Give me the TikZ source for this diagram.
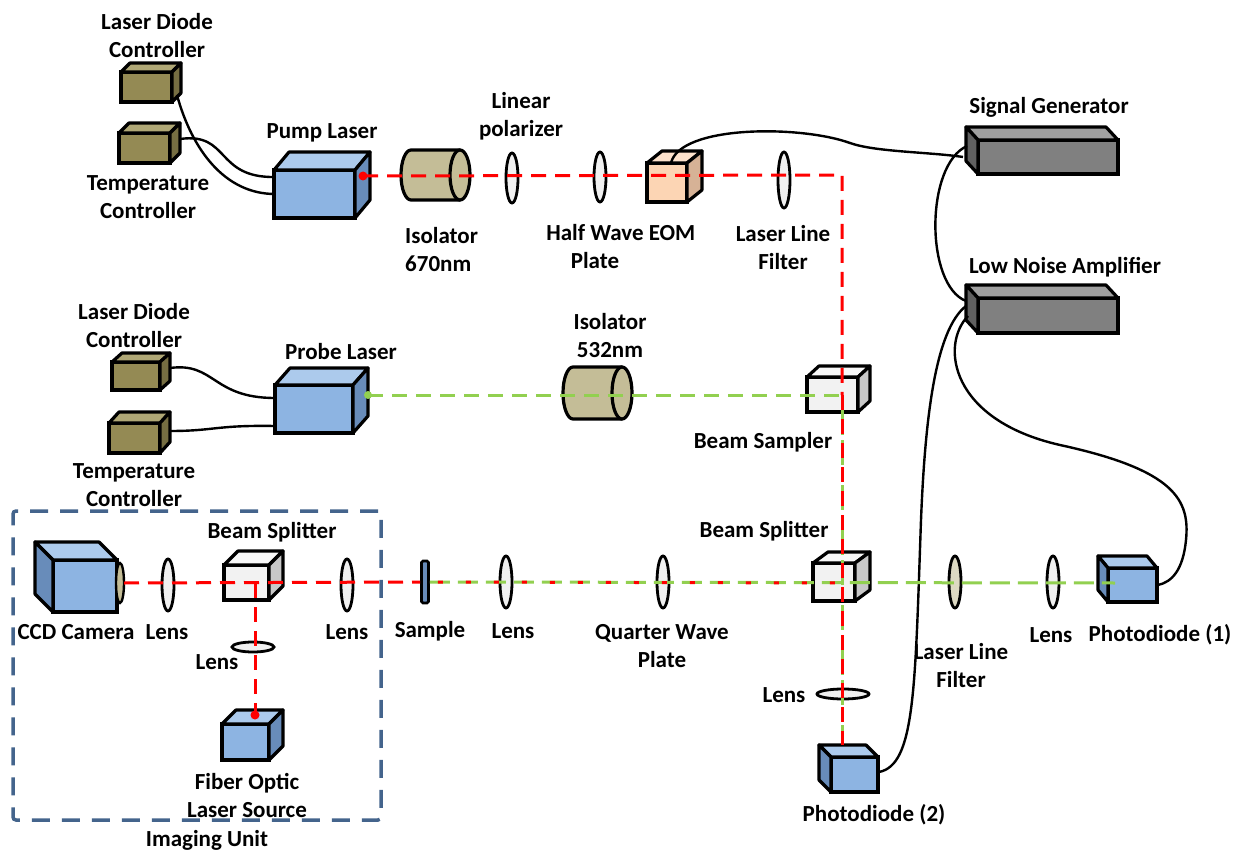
\documentclass[tikz,border=0pt]{standalone}
\usepackage{fontspec}
\setmainfont{Carlito}
\usetikzlibrary{shapes.geometric}

% face colours of the boxes: F = front, T = top, S = side
\definecolor{oliveF}{RGB}{148,138,84}
\definecolor{oliveT}{RGB}{176,168,118}
\definecolor{oliveS}{RGB}{118,110,66}
\definecolor{blueF}{RGB}{141,180,226}
\definecolor{blueT}{RGB}{172,202,236}
\definecolor{blueS}{RGB}{104,140,186}
\definecolor{grayF}{RGB}{128,128,128}
\definecolor{grayT}{RGB}{160,160,160}
\definecolor{grayS}{RGB}{96,96,96}
\definecolor{whiteF}{RGB}{242,242,242}
\definecolor{whiteT}{RGB}{248,248,248}
\definecolor{whiteS}{RGB}{200,200,200}
\definecolor{peachF}{RGB}{252,213,180}
\definecolor{peachT}{RGB}{253,226,204}
\definecolor{peachS}{RGB}{214,178,150}
\definecolor{isofill}{RGB}{196,189,151}
\definecolor{lensfill}{RGB}{240,240,240}
\definecolor{filterfill}{RGB}{221,217,195}
\definecolor{beamred}{RGB}{255,0,0}
\definecolor{beamgreen}{RGB}{146,208,80}
\definecolor{boxblue}{RGB}{68,100,140}

\tikzset{
  lbl/.style={font=\fontsize{23}{28}\selectfont\bfseries, align=center, inner sep=0pt},
  cubeface/.style={rectangle, draw=black, line width=3.2pt, inner sep=0pt, outer sep=0pt},
  cubeline/.style={draw=black, line width=3.2pt, line join=round},
  lens/.style={ellipse, draw=black, line width=2.8pt, fill=lensfill, inner sep=0pt},
  cable/.style={draw=black, line width=2.4pt},
  redbeam/.style={draw=beamred, line width=3pt, dash pattern=on 15pt off 9pt},
  reddots/.style={draw=beamred, line width=3pt, dash pattern=on 5pt off 23pt, dash phase=-8pt},
  greenbeam/.style={draw=beamgreen, line width=3pt, dash pattern=on 15pt off 9pt},
  greenmix/.style={draw=beamgreen, line width=3pt, dash pattern=on 20pt off 8pt},
  greenvert/.style={draw=beamgreen, line width=3pt, dash pattern=on 10pt off 5pt},
  imgbox/.style={rectangle, draw=boxblue, line width=3.5pt, dash pattern=on 18pt off 12pt, rounded corners=3pt, inner sep=0pt},
  beamdot/.style={circle, fill=beamred, inner sep=0pt, minimum size=9pt}
}

% box with its side face on the right: name, x1, y1, x2, y2 (front face), depth dx, dy, colour set
\newcommand{\cubeR}[8]{%
  \node[cubeface, fill=#8F, minimum width={#4-#2}, minimum height={#5-#3}] (#1) at ({(#2+#4)/2},{(#3+#5)/2}) {};
  \filldraw[cubeline, fill=#8T] (#1.north west) -- ++(#6,-#7) -- ++({#4-#2},0) -- (#1.north east) -- cycle;
  \filldraw[cubeline, fill=#8S] (#1.north east) -- ++(#6,-#7) -- ++(0,{#5-#3}) -- (#1.south east) -- cycle;
}
% box with its side face on the left
\newcommand{\cubeL}[8]{%
  \node[cubeface, fill=#8F, minimum width={#4-#2}, minimum height={#5-#3}] (#1) at ({(#2+#4)/2},{(#3+#5)/2}) {};
  \filldraw[cubeline, fill=#8T] (#1.north west) -- ++(-#6,-#7) -- ++({#4-#2},0) -- (#1.north east) -- cycle;
  \filldraw[cubeline, fill=#8S] (#1.north west) -- ++(-#6,-#7) -- ++(0,{#5-#3}) -- (#1.south west) -- cycle;
}
% optical isolator: name, left x, x of end face, centre y, radii
\newcommand{\isolator}[6]{%
  \filldraw[cubeline, fill=isofill] ({#2+#5},{#4-#6}) -- (#3,{#4-#6}) -- (#3,{#4+#6}) -- ({#2+#5},{#4+#6})
    arc[start angle=270, end angle=90, x radius=#5pt, y radius=#6pt] -- cycle;
  \node[ellipse, draw=black, line width=3.2pt, fill=isofill, inner sep=0pt,
        minimum width={2*#5}, minimum height={2*#6}] (#1) at (#3,#4) {};
}

\begin{document}
\begin{tikzpicture}[x=1pt, y=-1pt]
\useasboundingbox (0,0) rectangle (1251,853);

% ---------- imaging unit frame ----------
\node[imgbox, minimum width=368, minimum height=309] (imaging) at (197,665.5) {};

% ---------- pump branch ----------
\cubeR{ldA}{121}{72}{172}{102}{9}{9}{olive}
\cubeR{tcA}{119}{133}{170}{163}{10}{10}{olive}
\cubeR{pump}{274}{170}{355}{218}{15}{18}{blue}
\isolator{isoA}{401}{460}{175}{10}{25}
\node[lens, minimum width=12, minimum height=50] (polar) at (512,178) {};
\node[lens, minimum width=12, minimum height=50] (hwp) at (600,177) {};
\cubeR{eom}{647}{163}{687}{202}{15}{12}{peach}
\node[lens, minimum width=12, minimum height=56] (llfA) at (784,180) {};

% ---------- electronics ----------
\cubeL{siggen}{978}{140}{1118}{174}{12}{13}{gray}
\cubeL{lna}{978}{298}{1118}{333}{12}{13}{gray}

% ---------- probe branch ----------
\cubeR{ldB}{112}{362}{160}{390}{10}{9}{olive}
\cubeR{tcB}{109}{423}{160}{453}{10}{11}{olive}
\cubeR{probe}{275}{385}{353}{433}{15}{17}{blue}
\isolator{isoB}{563}{622}{393}{10}{26}
\cubeR{sampler}{807}{377}{858}{412}{12}{11}{white}

% ---------- detection line ----------
\cubeR{bsR}{813}{563}{855}{601}{15}{11}{white}
\node[lens, minimum width=52, minimum height=10] (lensPD) at (843,694) {};
\cubeL{pdB}{831}{757}{878}{792}{12}{12}{blue}
\node[lens, minimum width=12, minimum height=52] (lensS) at (506,582) {};
\node[lens, minimum width=12, minimum height=52] (qwp) at (663,582) {};
\node[lens, minimum width=12, minimum height=52, fill=filterfill] (llfB) at (955,582) {};
\node[lens, minimum width=12, minimum height=52] (lensPDA) at (1053,582) {};
\cubeL{pdA}{1108}{568}{1157}{602}{10}{12}{blue}
\node[rectangle, draw=black, line width=2.6pt, fill=blueS, rounded corners=1.5pt,
      minimum width=7, minimum height=42, inner sep=0pt] (sample) at (425,582) {};

% ---------- imaging unit contents ----------
\cubeL{ccd}{53}{560}{117}{612}{18}{18}{blue}
\node[ellipse, draw=black, line width=2.4pt, fill=isofill, minimum width=8, minimum height=40, inner sep=0pt] (ccdlens) at (120,583) {};
\node[lens, minimum width=12, minimum height=52] (lensC) at (168,585) {};
\cubeR{bsL}{224}{565}{269}{600}{14}{14}{white}
\node[lens, minimum width=12, minimum height=52] (lensD) at (347,585) {};
\node[lens, minimum width=42, minimum height=10] (lensF) at (253,647) {};
\cubeR{fiber}{222}{724}{269}{760}{14}{14}{blue}

% ---------- cable end points ----------
\coordinate (ldAout) at (177,95);
\coordinate (tcAout) at (180,139);
\coordinate (pumpin1) at (275,194);
\coordinate (pumpin2) at (275,177);
\coordinate (ldBout) at (170,368);
\coordinate (tcBout) at (170,431);
\coordinate (probein1) at (275,398);
\coordinate (probein2) at (275,426);
\coordinate (eomout) at (671,163);
\coordinate (sgin) at (963,157);
\coordinate (sgout) at (967,146);
\coordinate (lnain) at (966,301);
\coordinate (lnaoutB) at (966,306);
\coordinate (lnaoutA) at (968,316);
\coordinate (pdBin) at (879,772);
\coordinate (pdAin) at (1158,585);

% ---------- cables ----------
\draw[cable] (ldAout) .. controls (192,150) and (225,194) .. (pumpin1);
\draw[cable] (tcAout) .. controls (230,132) and (215,178) .. (pumpin2);
\draw[cable] (ldBout) .. controls (215,362) and (212,398) .. (probein1);
\draw[cable] (tcBout) .. controls (215,431) and (215,425) .. (probein2);
\draw[cable] (eomout) .. controls (680,125) and (800,125) .. (850,143) .. controls (875,152) and (930,152) .. (sgin);
\draw[cable] (sgout) .. controls (925,165) and (925,285) .. (lnain);
\draw[cable] (lnaoutB) .. controls (935,330) and (925,420) .. (921,520) .. controls (915,690) and (915,765) .. (pdBin);
\draw[cable] (lnaoutA) .. controls (940,345) and (950,420) .. (1060,445) .. controls (1175,470) and (1190,500) .. (1186,540) .. controls (1183,570) and (1172,582) .. (pdAin);

% ---------- beam path points ----------
\coordinate (pumpdot) at (363,176);
\coordinate (turn) at (842,175);
\coordinate (probedot) at (368,395);
\coordinate (samplerC) at (842,395);
\coordinate (pdBtop) at (842,745);
\coordinate (bsRC) at (842,583);
\coordinate (pdAC) at (1115,583);
\coordinate (ccdout) at (124,583);
\coordinate (bsLC) at (255,583);
\coordinate (fiberdot) at (255,715);

% ---------- beams ----------
\draw[redbeam] (pumpdot) -- (turn) -- (samplerC);
\draw[greenbeam] (probedot) -- (samplerC);
\draw[greenvert] (samplerC) -- (pdBtop);
\draw[redbeam] (samplerC) -- (pdBtop);
\draw[redbeam] (ccdout) -- (sample.west);
\draw[greenmix] (sample.east) -- (pdAC);
\draw[reddots] (sample.east) -- (bsRC);
\draw[redbeam] (bsLC) -- (fiberdot);
\node[beamdot] at (pumpdot) {};
\node[beamdot, fill=beamgreen, minimum size=8pt] at (probedot) {};
\node[beamdot] at (fiberdot) {};

% ---------- labels ----------
\node[lbl] at (157,36) {Laser Diode\\Controller};
\node[lbl] at (148,197) {Temperature\\Controller};
\node[lbl] at (322,133) {Pump Laser};
\node[lbl, align=left, anchor=west] at (405,250) {Isolator\\670nm};
\node[lbl] at (521,116) {Linear\\polarizer};
\node[lbl] at (595,247) {Half Wave\\Plate};
\node[lbl] at (672,233) {EOM};
\node[lbl] at (783,248) {Laser Line\\Filter};
\node[lbl] at (1049,107) {Signal Generator};
\node[lbl] at (1065,267) {Low Noise Amplifier};
\node[lbl] at (134,326) {Laser Diode\\Controller};
\node[lbl] at (134,485) {Temperature\\Controller};
\node[lbl] at (341,352) {Probe Laser};
\node[lbl] at (610,336) {Isolator\\532nm};
\node[lbl] at (763,442) {Beam Sampler};
\node[lbl] at (764,531) {Beam Splitter};
\node[lbl] at (272,532) {Beam Splitter};
\node[lbl] at (76,632) {CCD Camera};
\node[lbl] at (167,632) {Lens};
\node[lbl] at (347,632) {Lens};
\node[lbl] at (217,662) {Lens};
\node[lbl] at (247,795) {Fiber Optic\\Laser Source};
\node[lbl] at (207,840) {Imaging Unit};
\node[lbl] at (430,631) {Sample};
\node[lbl] at (513,631) {Lens};
\node[lbl] at (662,646) {Quarter Wave\\Plate};
\node[lbl] at (784,695) {Lens};
\node[lbl] at (874,815) {Photodiode (2)};
\node[lbl] at (961,666) {Laser Line\\Filter};
\node[lbl] at (1051,635) {Lens};
\node[lbl] at (1160,635) {Photodiode (1)};
\end{tikzpicture}
\end{document}
